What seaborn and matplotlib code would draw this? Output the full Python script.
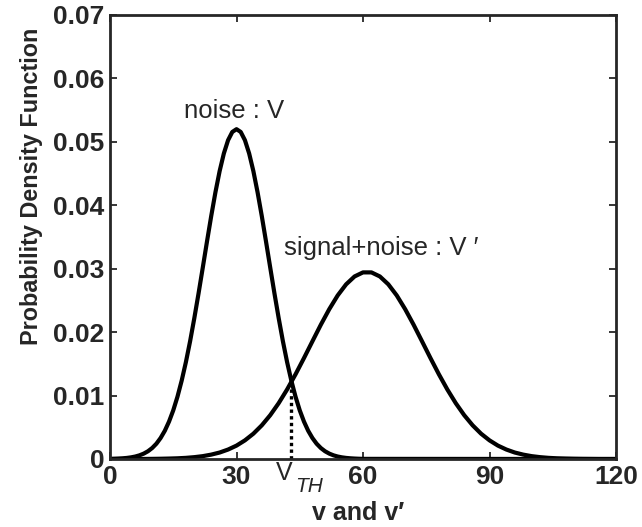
import numpy as np
import pandas as pd
import matplotlib
matplotlib.use("Agg")
import matplotlib.pyplot as plt
import seaborn as sns

# ---- data ----
noise_v = list(range(0, 61)) + [120]
noise_pdf = [0.00002, 0.00004, 0.00007, 0.00011, 0.00017, 0.00026, 0.00039,
             0.00058, 0.00085, 0.00122, 0.00173, 0.00241, 0.00331, 0.00445,
             0.00590, 0.00767, 0.00982, 0.01236, 0.01528, 0.01858, 0.02222,
             0.02611, 0.03017, 0.03428, 0.03829, 0.04204, 0.04539, 0.04817,
             0.05026, 0.05156, 0.05200, 0.05156, 0.05026, 0.04817, 0.04539,
             0.04204, 0.03829, 0.03428, 0.03017, 0.02611, 0.02222, 0.01858,
             0.01528, 0.01236, 0.00982, 0.00767, 0.00590, 0.00445, 0.00331,
             0.00241, 0.00173, 0.00122, 0.00085, 0.00058, 0.00039, 0.00026,
             0.00017, 0.00011, 0.00007, 0.00004, 0.00002, 0.0]
signal_v = list(range(0, 121, 2))
signal_pdf = [0, 0, 0, 0, 0.00001, 0.00002, 0.00004, 0.00007, 0.00011, 0.00018,
              0.00029, 0.00045, 0.00069, 0.00102, 0.00149, 0.00211, 0.00294,
              0.00399, 0.00531, 0.00691, 0.00880, 0.01096, 0.01335, 0.01591,
              0.01855, 0.02117, 0.02362, 0.02579, 0.02754, 0.02878, 0.02942,
              0.02942, 0.02878, 0.02754, 0.02579, 0.02362, 0.02117, 0.01855,
              0.01591, 0.01335, 0.01096, 0.00880, 0.00691, 0.00531, 0.00399,
              0.00294, 0.00211, 0.00149, 0.00102, 0.00069, 0.00045, 0.00029,
              0.00018, 0.00011, 0.00007, 0.00004, 0.00002, 0.00001, 0, 0, 0]
vth_x = 42.9
vth_y = 0.0113
x_ticks = [0, 30, 60, 90, 120]
y_ticks = [0, 0.01, 0.02, 0.03, 0.04, 0.05, 0.06, 0.07]
y_tick_labels = ["0", "0.01", "0.02", "0.03", "0.04", "0.05", "0.06", "0.07"]

sns.set_style("ticks")
plt.rcParams["font.family"] = ["Liberation Sans", "DejaVu Sans"]

df_noise = pd.DataFrame({"v": noise_v, "pdf": noise_pdf})
df_signal = pd.DataFrame({"v": signal_v, "pdf": signal_pdf})

fig = plt.figure(figsize=(6.42, 5.27), dpi=100)
ax = fig.add_axes([110 / 642, 1 - 459 / 527, 506 / 642, 444 / 527])

sns.lineplot(data=df_noise, x="v", y="pdf", ax=ax, color="black", lw=3.0)
sns.lineplot(data=df_signal, x="v", y="pdf", ax=ax, color="black", lw=3.0)
ax.plot([vth_x, vth_x], [0, vth_y], color="black", lw=2.4, linestyle=(0, (1, 1)))

ax.set_xlim(0, 120)
ax.set_ylim(0, 0.07)
ax.set_xticks(x_ticks)
ax.set_xticklabels([str(t) for t in x_ticks], fontweight="bold", fontsize=19)
ax.set_yticks(y_ticks)
ax.set_yticklabels(y_tick_labels, fontweight="bold", fontsize=19)
ax.tick_params(axis="x", direction="in", top=True, length=5, width=1.3, pad=4)
ax.tick_params(axis="y", direction="in", right=True, length=5, width=1.3, pad=4)
for s in ax.spines.values():
    s.set_linewidth(2)
    s.set_visible(True)

ax.set_xlabel("v and v\u2032", fontweight="bold", fontsize=18)
ax.xaxis.label.set_va("baseline")
ax.xaxis.set_label_coords(0.49, -0.137)
ax.set_ylabel("Probability Density Function", fontweight="bold", fontsize=16.8)
ax.yaxis.set_label_coords(-0.132, 0.614)

ax.text(29.5, 0.0538, "noise : V", ha="center", va="baseline", fontsize=18.5)
ax.text(64.3, 0.0322, "signal+noise : V \u2032", ha="center", va="baseline",
        fontsize=18.5)
ax.text(41.4, -0.0033, "V", ha="center", va="baseline", fontsize=18)
ax.text(43.9, -0.0052, "TH", ha="left", va="baseline", fontsize=15,
        fontstyle="italic")

fig.savefig("out.png", dpi=100)
